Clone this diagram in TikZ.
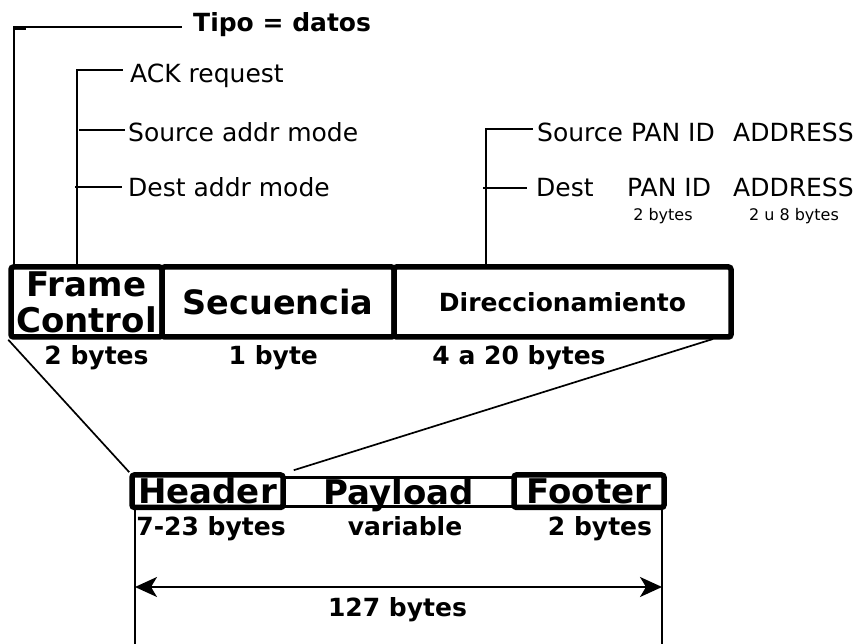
\documentclass[tikz,border=0pt]{standalone}
\usepackage{fontspec}
\setmainfont{DejaVu Sans}
\usetikzlibrary{arrows.meta,calc}
\begin{document}
\begin{tikzpicture}[x=1pt,y=-1pt,
  field/.style={draw,line width=5.5pt,rounded corners=2.5pt,inner sep=0pt,
    font=\bfseries\fontsize{34}{36}\selectfont,align=center},
  lowfield/.style={field,text height=25pt,text depth=0pt},
  lbl/.style={font=\bfseries\fontsize{25}{30}\selectfont,anchor=base,inner sep=0pt},
  txt/.style={font=\fontsize{25}{30}\selectfont,anchor=base west,inner sep=0pt},
  small/.style={font=\fontsize{16}{19}\selectfont,anchor=base,inner sep=0pt},
  bracket/.style={line width=2.2pt},
  link/.style={line width=1.7pt},
  span/.style={line width=2.2pt,{Stealth[length=22pt,width=20pt,inset=6pt]}-{Stealth[length=22pt,width=20pt,inset=6pt]}},
]
\useasboundingbox (0,0) rectangle (857,644);

% MAC header fields
\node[field,minimum width=151pt,minimum height=70pt] (fc) at (86.5,302) {Frame\\Control};
\node[field,minimum width=232pt,minimum height=70pt,font=\bfseries\fontsize{33.5}{36}\selectfont] (sec) at (278,302) {Secuencia};
\node[field,minimum width=337pt,minimum height=70pt,font=\bfseries\fontsize{25}{30}\selectfont] (dir) at (562.5,302) {Direccionamiento};

\node[lbl] (fcsize)  at (96.5,365) {2 bytes};
\node[lbl] (secsize) at (273.3,365) {1 byte};
\node[lbl] (dirsize) at (519,365) {4 a 20 bytes};

% frame control sub-fields
\node[font=\bfseries\fontsize{25}{30}\selectfont,anchor=base west,inner sep=0pt] (tipo) at (193,32) {Tipo = datos};
\node[txt] (ack) at (130,83) {ACK request};
\node[txt] (srcmode) at (128,141.5) {Source addr mode};
\node[txt] (dstmode) at (128,197) {Dest addr mode};

\coordinate (tipoc) at (14.3,27);
\coordinate (tipoe) at (182,27);
\coordinate (fcbar) at (76.7,70);
\draw[bracket] (tipoc |- fc.north) -- (tipoc) -- (tipoe);
\draw[line width=1.5pt] (14.3,29) -- (26,29);
\draw[bracket] (fcbar |- fc.north) -- (fcbar) -- (123.3,70);
\draw[bracket] (79,130) -- (125,130);
\draw[bracket] (75,187.3) -- (121.7,187.3);

% addressing sub-fields
\node[txt] (srcpan) at (537,142) {Source PAN ID};
\node[txt] (srcaddr) at (733,142) {ADDRESS};
\node[txt] (dst) at (536,197) {Dest};
\node[txt] (dstpan) at (627,197) {PAN ID};
\node[txt] (dstaddr) at (733,197) {ADDRESS};
\node[small] (pansize) at (663,221) {2 bytes};
\node[small] (addrsize) at (794,221) {2 u 8 bytes};

\coordinate (dirbar) at (485.7,129);
\draw[bracket] (dirbar |- dir.north) -- (dirbar) -- (532.7,129);
\draw[bracket] (483.3,187.7) -- (526.7,187.7);

% MAC frame
\node[lowfield,line width=3pt,rounded corners=0pt,minimum width=231pt,minimum height=29pt] (pay) at (398.5,491.5) {Payload};
\node[lowfield,minimum width=151pt,minimum height=32.5pt] (hdr) at (207.5,491.2) {Header};
\node[lowfield,minimum width=150pt,minimum height=32.5pt] (ftr) at (589,491.2) {Footer};

\node[lbl] (hdrsize) at (211,535.5) {7-23 bytes};
\node[lbl] (paysize) at (405,535.5) {variable};
\node[lbl] (ftrsize) at (600,535.5) {2 bytes};

% zoom lines from the MAC header down to the frame header
\coordinate (dirfoot) at (713,339);
\draw[link] (fc.south west) -- (hdr.north west);
\draw[link] (dirfoot) -- ($(hdr.north east)+(8,-2)$);

% total frame length
\coordinate (lefttop) at (135,510);
\coordinate (leftbot) at (135,644);
\coordinate (righttop) at (662,510);
\coordinate (rightbot) at (662,644);
\draw[bracket] (lefttop) -- (leftbot);
\draw[bracket] (righttop) -- (rightbot);
\coordinate (arrl) at (135,587);
\coordinate (arrr) at (662,587);
\draw[span] (arrl) -- (arrr);
\node[lbl] (total) at (397.5,616) {127 bytes};
\end{tikzpicture}
\end{document}
